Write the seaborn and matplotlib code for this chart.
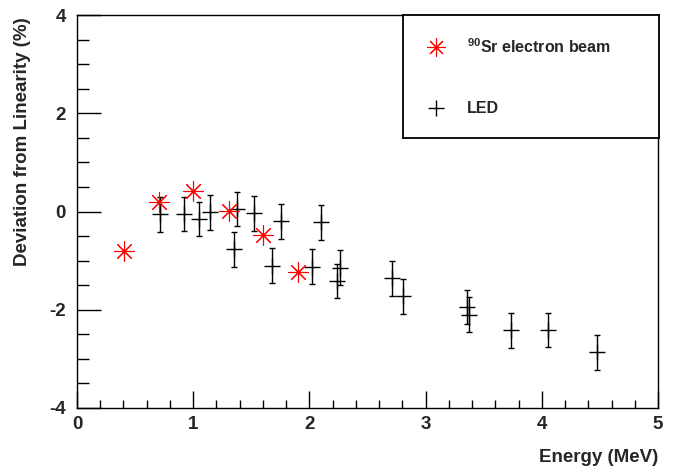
import matplotlib
matplotlib.use("Agg")
import matplotlib.pyplot as plt
import seaborn as sns
import pandas as pd
from matplotlib.ticker import MultipleLocator

# 90Sr electron beam points
sr_energy = [0.407, 0.708, 1.001, 1.308, 1.600, 1.899]
sr_dev = [-0.81, 0.20, 0.41, 0.02, -0.48, -1.24]

# LED points (with vertical errors)
led_energy = [0.714, 0.924, 1.05, 1.147, 1.354, 1.377, 1.526, 1.678, 1.756, 2.02,
              2.10, 2.235, 2.263, 2.713, 2.806, 3.359, 3.376, 3.735, 4.05, 4.475]
led_dev = [-0.06, -0.05, -0.15, -0.02, -0.77, 0.05, -0.04, -1.10, -0.20, -1.12,
           -0.22, -1.41, -1.14, -1.36, -1.73, -1.94, -2.10, -2.42, -2.41, -2.87]
led_err = [0.35] * len(led_energy)

x_ticks = [0, 1, 2, 3, 4, 5]
y_ticks = [-4, -2, 0, 2, 4]

sns.set_style("ticks")
plt.rcParams['font.family'] = ['Liberation Sans', 'DejaVu Sans']
plt.rcParams['font.weight'] = 'bold'
plt.rcParams['axes.unicode_minus'] = False
plt.rcParams['mathtext.fontset'] = 'custom'
plt.rcParams['mathtext.rm'] = 'Liberation Sans:bold'
plt.rcParams['mathtext.bf'] = 'Liberation Sans:bold'

sr_df = pd.DataFrame({'energy': sr_energy, 'dev': sr_dev})
led_df = pd.DataFrame({'energy': led_energy, 'dev': led_dev, 'err': led_err})

fig = plt.figure(figsize=(6.73, 4.66), dpi=100)
ax = fig.add_axes([77 / 673, 58 / 466, 581 / 673, 393 / 466])

# LED error bars then markers
ax.errorbar(led_df['energy'], led_df['dev'], yerr=led_df['err'], fmt='none',
            ecolor='black', elinewidth=1.0, capsize=2, capthick=1.0, zorder=2)
sns.scatterplot(data=led_df, x='energy', y='dev', marker='+', s=140, color='black',
                linewidth=1.0, ax=ax, zorder=3, legend=False)
sns.scatterplot(data=sr_df, x='energy', y='dev', marker=(8, 2, 0), s=200, color='red',
                linewidth=0.8, edgecolor='red', ax=ax, zorder=4, legend=False)

ax.set_xlim(0, 5)
ax.set_ylim(-4, 4)
ax.set_xticks(x_ticks)
ax.set_yticks(y_ticks)
ax.xaxis.set_minor_locator(MultipleLocator(0.2))
ax.yaxis.set_minor_locator(MultipleLocator(0.5))
ax.tick_params(axis='both', which='both', direction='in', top=False, right=False,
               labelsize=13.5, width=1, color='black')
ax.tick_params(axis='x', which='major', length=12, pad=6)
ax.tick_params(axis='x', which='minor', length=6)
ax.tick_params(axis='y', which='major', length=17, pad=8)
ax.tick_params(axis='y', which='minor', length=8.5)
for lab in ax.get_xticklabels() + ax.get_yticklabels():
    lab.set_fontweight('bold')
for sp in ax.spines.values():
    sp.set_visible(True)
    sp.set_color('black')
    sp.set_linewidth(1.0)

ax.set_xlabel('Energy (MeV)', fontsize=13.5, fontweight='bold', ha='right', x=1.0)
ax.set_ylabel('Deviation from Linearity (%)', fontsize=13.5, fontweight='bold',
              ha='right', y=1.0)
ax.xaxis.set_label_coords(1.0, -0.105)
ax.yaxis.set_label_coords(-0.08, 0.995)

# legend box
lax = fig.add_axes([403 / 673, (466 - 137.5) / 466, 256 / 673, 123 / 466])
lax.set_xlim(0, 256)
lax.set_ylim(123, 0)
lax.set_xticks([])
lax.set_yticks([])
for sp in lax.spines.values():
    sp.set_color('black')
    sp.set_linewidth(1.3)
lax.plot([33], [32], marker=(8, 2, 0), markersize=13, color='red', mew=0.8, linestyle='none')
lax.plot([33], [93], marker='+', markersize=11, color='black', mew=1.0, linestyle='none')
lax.text(64, 32, r'$^{90}$Sr electron beam', fontsize=11.5, fontweight='bold', va='center')
lax.text(64, 94, 'LED', fontsize=11.5, fontweight='bold', va='center')

fig.savefig('out.png', dpi=100)
